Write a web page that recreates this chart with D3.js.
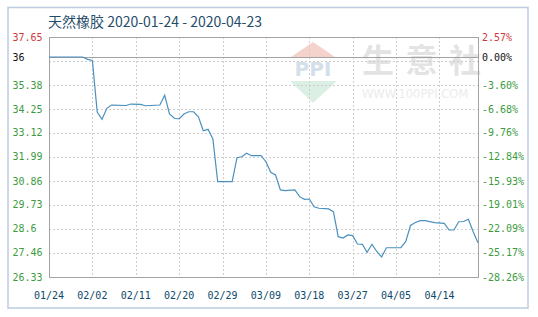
<!DOCTYPE html>
<meta charset="utf-8">
<script src="https://d3js.org/d3.v7.min.js"></script>
<style>
body { margin: 0; background: #fff; }
text { font-family: "DejaVu Sans Mono", monospace; font-size: 10px; }
</style>
<body>
<script>

// data: change vs. 01/24, in percent
var dates = ["01-24","01-31","02-01","02-02","02-03","02-04","02-05","02-06","02-09","02-10",
  "02-12","02-13","02-16","02-17","02-18","02-19","02-20","02-21","02-22","02-23",
  "02-24","02-25","02-26","02-27","02-28","03-02","03-03","03-04","03-05","03-06",
  "03-08","03-09","03-10","03-11","03-12","03-13","03-15","03-16","03-17","03-18",
  "03-19","03-20","03-22","03-23","03-24","03-25","03-26","03-27","03-28","03-29",
  "03-30","03-31","04-01","04-02","04-03","04-06","04-07","04-08","04-09","04-10",
  "04-11","04-13","04-15","04-16","04-17","04-18","04-19","04-20","04-21","04-22"];
var values = [0, 0, -0.30, -0.45, -7.06, -8.00, -6.59, -6.17, -6.23, -6.04,
  -6.08, -6.26, -6.17, -4.92, -7.32, -7.87, -7.96, -7.32, -7.03, -7.03,
  -7.67, -9.47, -9.29, -10.53, -16.02, -16.02, -12.94, -12.81, -12.37, -12.68,
  -12.68, -13.45, -14.81, -15.16, -17.08, -17.17, -17.08, -17.94, -18.28, -18.24,
  -19.23, -19.43, -19.52, -19.87, -23.08, -23.25, -22.86, -22.95, -24.02, -24.06,
  -25.09, -24.06, -24.98, -25.69, -24.50, -24.50, -23.73, -21.64, -21.26, -21.03,
  -21.03, -21.28, -21.36, -22.22, -22.22, -21.16, -21.13, -20.85, -22.44, -23.85];

var pctTicks = [2.57, -0.51, -3.60, -6.68, -9.76, -12.84, -15.93, -19.01, -22.09, -25.17, -28.26];
var leftLabels = ["37.65", "", "35.38", "34.25", "33.12", "31.99", "30.86", "29.73", "28.6", "27.46", "26.33"];
var rightLabels = ["2.57%", "", "-3.60%", "-6.68%", "-9.76%", "-12.84%", "-15.93%", "-19.01%", "-22.09%", "-25.17%", "-28.26%"];
var xTicks = ["01-24","02-02","02-11","02-20","02-29","03-09","03-18","03-27","04-05","04-14"];

var width = 538, height = 317;
var mLeft = 49, mRight = 478, mTop = 37, mBottom = 277;

var parse = d3.timeParse("%Y-%m-%d");
var fmt = d3.timeFormat("%m/%d");
var data = dates.map(function(d, i) { return {date: parse("2020-" + d), value: values[i]}; });

var x = d3.scaleTime()
    .domain([parse("2020-01-24"), parse("2020-04-22")])
    .range([mLeft, mRight]);
var y = d3.scaleLinear()
    .domain([-28.26, 2.57])
    .range([mBottom, mTop]);

var svg = d3.select("body").append("svg")
    .attr("width", width)
    .attr("height", height);

// outer frame
svg.append("rect")
    .attr("x", 8).attr("y", 7.5)
    .attr("width", 520).attr("height", 300.5)
    .attr("fill", "none")
    .attr("stroke", "#bccbe0")
    .attr("stroke-width", 1.5);

// title
svg.append("text")
    .attr("x", 48).attr("y", 27)
    .style("font-family", "'Noto Sans CJK SC', sans-serif")
    .style("font-size", "14px")
    .attr("fill", "#1f4d6a")
    .text("天然橡胶 2020-01-24 - 2020-04-23");

// watermark
var wm = svg.append("g");
wm.append("path")
    .attr("d", "M313,42 L335,57 L291,57 Z")
    .attr("fill", "#f6d2cc");
wm.append("text")
    .attr("x", 313).attr("y", 76)
    .attr("text-anchor", "middle")
    .style("font-family", "'DejaVu Sans', sans-serif")
    .style("font-size", "20px")
    .style("font-weight", 700)
    .attr("fill", "#d3dfeb")
    .text("PPI");
wm.append("path")
    .attr("d", "M290,81 L337,81 L313,103 Z")
    .attr("fill", "#dcefe4");
wm.selectAll(".wc")
    .data(["生", "意", "社"])
    .enter().append("text")
    .attr("x", function(d, i) { return 362 + i * 43.5; })
    .attr("y", 72)
    .style("font-family", "'Noto Sans CJK SC', sans-serif")
    .style("font-size", "32px")
    .style("font-weight", 700)
    .attr("fill", "#e3e3e3")
    .text(function(d) { return d; });
wm.append("text")
    .attr("x", 362).attr("y", 98)
    .style("font-family", "'DejaVu Sans', sans-serif")
    .style("font-size", "11.5px")
    .attr("fill", "#ececec")
    .text("WWW.100PPI.COM");

// grid
var grid = svg.append("g")
    .attr("stroke", "#cfcfcf")
    .attr("stroke-dasharray", "2,2");
grid.selectAll(".hg")
    .data(pctTicks.slice(1))
    .enter().append("line")
    .attr("x1", mLeft).attr("x2", mRight)
    .attr("y1", function(d) { return Math.round(y(d)) + 0.5; })
    .attr("y2", function(d) { return Math.round(y(d)) + 0.5; });
grid.selectAll(".vg")
    .data(xTicks.slice(1))
    .enter().append("line")
    .attr("y1", mTop).attr("y2", mBottom)
    .attr("x1", function(d) { return Math.round(x(parse("2020-" + d))) + 0.5; })
    .attr("x2", function(d) { return Math.round(x(parse("2020-" + d))) + 0.5; });

// plot frame and zero line
svg.append("rect")
    .attr("x", mLeft + 0.5).attr("y", mTop + 0.5)
    .attr("width", mRight - mLeft).attr("height", mBottom - mTop)
    .attr("fill", "none")
    .attr("stroke", "#a3a3a3");
svg.append("line")
    .attr("x1", mLeft).attr("x2", mRight)
    .attr("y1", Math.round(y(0)) + 0.5).attr("y2", Math.round(y(0)) + 0.5)
    .attr("stroke", "#a3a3a3");

// line
var line = d3.line()
    .x(function(d) { return x(d.date); })
    .y(function(d) { return y(d.value); });
svg.append("path")
    .datum(data)
    .attr("d", line)
    .attr("fill", "none")
    .attr("stroke", "#4a90bf")
    .attr("stroke-width", 1.2);

// axis labels (the -0.51% slot is replaced by the base line label)
function tickColor(i) { return i == 0 ? "#d0393b" : "#3e9b3e"; }
var ticks = pctTicks.map(function(d, i) {
  return {v: d, left: leftLabels[i], right: rightLabels[i], color: tickColor(i)};
}).filter(function(t) { return t.left != ""; });
ticks.push({v: 0, left: "36", right: "0.00%", color: "#111"});

svg.selectAll(".ll")
    .data(ticks)
    .enter().append("text")
    .attr("x", 12.5)
    .attr("y", function(d) { return y(d.v); })
    .attr("dy", "0.35em")
    .attr("fill", function(d) { return d.color; })
    .text(function(d) { return d.left; });

svg.selectAll(".rl")
    .data(ticks)
    .enter().append("text")
    .attr("x", 482)
    .attr("y", function(d) { return y(d.v); })
    .attr("dy", "0.35em")
    .attr("fill", function(d) { return d.color; })
    .text(function(d) { return d.right; });

// x labels
svg.selectAll(".xl")
    .data(xTicks)
    .enter().append("text")
    .attr("x", function(d) { return x(parse("2020-" + d)); })
    .attr("y", 299)
    .attr("text-anchor", "middle")
    .attr("fill", "#0d4a6b")
    .text(function(d) { return fmt(parse("2020-" + d)); });

</script>
</body>
